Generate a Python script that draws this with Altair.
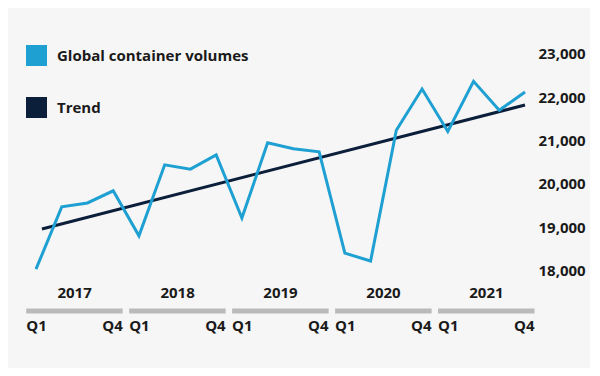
import altair as alt
import pandas as pd

# ---- data ----
quarters = ["Q1", "Q2", "Q3", "Q4"] * 5
years = ["2017", "2018", "2019", "2020", "2021"]
volumes = [18030, 19470, 19560, 19840,
           18800, 20440, 20340, 20670,
           19210, 20950, 20810, 20740,
           18400, 18220, 21240, 22190,
           21210, 22370, 21700, 22120]
trend_x = [0.23, 19.0]
trend_y = [18958, 21822]
y_ticks = [18000, 19000, 20000, 21000, 22000, 23000]

SERIES = ["Global container volumes", "Trend"]
BLUE = "#1fa0d2"
NAVY = "#0b1f3b"
TEXT = "#1a1a1a"
FONT = "Open Sans"

df = pd.DataFrame({"i": list(range(len(volumes))), "value": volumes,
                   "q": quarters, "series": SERIES[0]})
trend = pd.DataFrame({"i": trend_x, "value": trend_y, "series": SERIES[1]})
yrs = pd.DataFrame({
    "year": years,
    "start": [4 * k - 0.38 for k in range(len(years))],
    "end": [4 * k + 3 + 0.37 for k in range(len(years))],
    "mid": [4 * k + 1.5 for k in range(len(years))],
    "q1": "Q1", "q4": "Q4",
})

xscale = alt.Scale(domain=[-1.088, 19.388], nice=False, zero=False)
yscale = alt.Scale(domain=[15748, 24062], nice=False, zero=False)
yaxis = alt.Axis(orient="right", values=y_ticks, format=",.0f", ticks=False,
                 domain=False, grid=False, labelPadding=3, labelFontSize=15,
                 labelFontWeight="bold", labelFont=FONT, labelColor=TEXT,
                 title=None)
color = alt.Color("series:N",
                  scale=alt.Scale(domain=SERIES, range=[BLUE, NAVY]),
                  legend=alt.Legend(title=None, orient="none", legendX=18,
                                    legendY=37, direction="vertical",
                                    symbolType="square", symbolSize=100,
                                    symbolStrokeWidth=11, labelFontSize=15,
                                    labelFontWeight="bold", labelFont=FONT,
                                    labelColor=TEXT, labelOffset=10,
                                    labelLimit=400, rowPadding=-3, padding=0))

line = alt.Chart(df).mark_line(strokeWidth=3).encode(
    x=alt.X("i:Q", scale=xscale, axis=None),
    y=alt.Y("value:Q", scale=yscale, axis=yaxis),
    color=color,
)
trend_line = alt.Chart(trend).mark_line(strokeWidth=3).encode(
    x=alt.X("i:Q", scale=xscale, axis=None),
    y=alt.Y("value:Q", scale=yscale, axis=yaxis),
    color=color,
)

bars = alt.Chart(yrs).mark_rule(strokeWidth=5, color="#bababa",
                                strokeCap="butt").encode(
    x=alt.X("start:Q", scale=xscale, axis=None),
    x2="end:Q",
    y=alt.value(303),
)
year_text = alt.Chart(yrs).mark_text(fontSize=15, fontWeight="bold", font=FONT,
                                     color=TEXT, align="center",
                                     baseline="middle").encode(
    x=alt.X("mid:Q", scale=xscale, axis=None),
    y=alt.value(285),
    text="year:N",
)
q1_text = alt.Chart(yrs).mark_text(fontSize=15, fontWeight="bold", font=FONT,
                                   color=TEXT, align="left",
                                   baseline="middle").encode(
    x=alt.X("start:Q", scale=xscale, axis=None),
    y=alt.value(318),
    text="q1:N",
)
q4_text = alt.Chart(yrs).mark_text(fontSize=15, fontWeight="bold", font=FONT,
                                   color=TEXT, align="right",
                                   baseline="middle").encode(
    x=alt.X("end:Q", scale=xscale, axis=None),
    y=alt.value(318),
    text="q4:N",
)

chart = alt.layer(bars, year_text, q1_text, q4_text, trend_line, line).properties(
    width=527, height=360,
    padding={"left": 0, "top": 0, "right": 4, "bottom": 0},
).configure(background="#f6f6f6").configure_view(stroke=None)

chart.save("out.html", embed_options={"renderer": "svg", "actions": False})
